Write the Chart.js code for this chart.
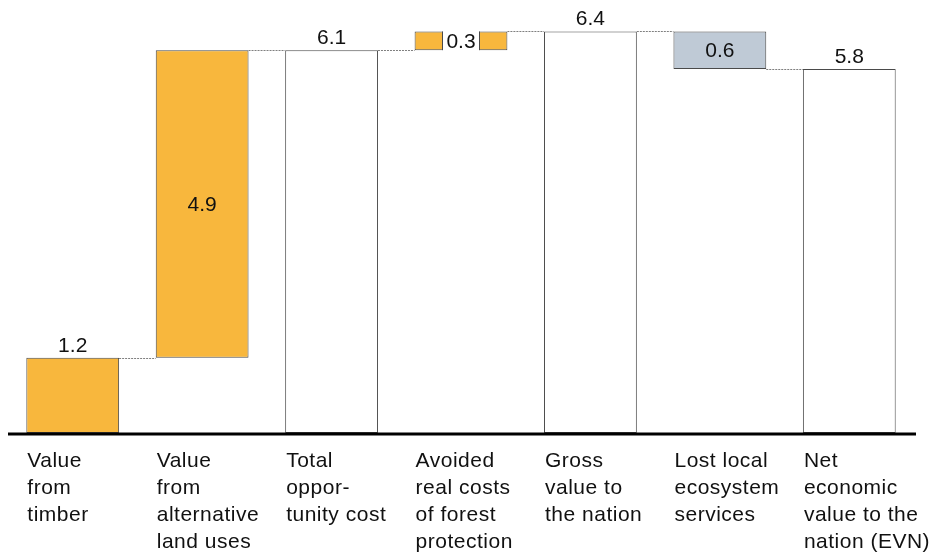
<!DOCTYPE html>
<html>
<head>
<meta charset="utf-8">
<script src="https://cdn.jsdelivr.net/npm/chart.js@4"></script>
<style>
  body { margin: 0; background: #fff; }
</style>
</head>
<body>
<canvas id="myChart" width="932" height="554"></canvas>
<script>
const categories = [
    ['Value', 'from', 'timber'],
    ['Value', 'from', 'alternative', 'land uses'],
    ['Total', 'oppor-', 'tunity cost'],
    ['Avoided', 'real costs', 'of forest', 'protection'],
    ['Gross', 'value to', 'the nation'],
    ['Lost local', 'ecosystem', 'services'],
    ['Net', 'economic', 'value to the', 'nation (EVN)'],
];
const values = [1.2, 4.9, 6.1, 0.3, 6.4, 0.6, 5.8];
const kinds = ['add', 'add', 'total', 'add', 'total', 'subtract', 'total'];

const kindColors = {
    add: 'rgb(248,183,61)',
    total: '#ffffff',
    subtract: 'rgb(191,202,214)'
};

// build floating ranges from the steps
let level = 0;
const ranges = values.map(function (v, i) {
    let r;
    if (kinds[i] == 'total') {
        r = [0, v];
        level = v;
    } else if (kinds[i] == 'add') {
        r = [level, level + v];
        level = level + v;
    } else {
        r = [level, level - v];
        level = level - v;
    }
    return r;
});

const font = '21px "Liberation Sans", Arial, sans-serif';
const textColor = '#111111';
const edgeColor = '#4a4a4a';

const waterfallPlugin = {
    id: 'waterfall',
    afterDatasetsDraw(chart) {
        const ctx = chart.ctx;
        const meta = chart.getDatasetMeta(0);
        const y = chart.scales.y;
        const area = chart.chartArea;

        ctx.save();
        // dotted connectors
        ctx.strokeStyle = '#7f7f7f';
        ctx.lineWidth = 1;
        ctx.setLineDash([2, 1]);
        for (let i = 0; i < meta.data.length - 1; i++) {
            const a = meta.data[i], b = meta.data[i + 1];
            const py = Math.round(y.getPixelForValue(ranges[i][1])) + 0.5;
            ctx.beginPath();
            ctx.moveTo(a.x + a.width / 2, py);
            ctx.lineTo(b.x - b.width / 2, py);
            ctx.stroke();
        }
        ctx.setLineDash([]);

        // value labels
        ctx.font = font;
        ctx.fillStyle = textColor;
        ctx.textAlign = 'center';
        meta.data.forEach(function (bar, i) {
            const txt = values[i].toFixed(1);
            const top = y.getPixelForValue(Math.max(ranges[i][0], ranges[i][1]));
            const bottom = y.getPixelForValue(Math.min(ranges[i][0], ranges[i][1]));
            if (kinds[i] == 'total' || i == 0) {
                ctx.textBaseline = 'alphabetic';
                ctx.fillText(txt, bar.x, top - 6);
            } else {
                const cy = (top + bottom) / 2;
                const w = ctx.measureText(txt).width;
                if (bottom - top < 26) {
                    // label box sits over a thin bar
                    const l = Math.round(bar.x - w / 2 - 4), r = Math.round(bar.x + w / 2 + 4);
                    ctx.fillStyle = '#ffffff';
                    ctx.fillRect(l, top - 1, r - l, bottom - top + 2);
                    ctx.strokeStyle = edgeColor;
                    ctx.beginPath();
                    ctx.moveTo(l + 0.5, top);
                    ctx.lineTo(l + 0.5, bottom);
                    ctx.moveTo(r - 0.5, top);
                    ctx.lineTo(r - 0.5, bottom);
                    ctx.stroke();
                    ctx.fillStyle = textColor;
                }
                ctx.textBaseline = 'middle';
                ctx.fillText(txt, bar.x, cy + 1);
            }
        });

        // axis line
        const base = y.getPixelForValue(0);
        ctx.strokeStyle = '#000000';
        ctx.lineWidth = 3;
        ctx.beginPath();
        ctx.moveTo(area.left, base + 1);
        ctx.lineTo(area.right + 2, base + 1);
        ctx.stroke();

        // category labels, left aligned with the bars
        ctx.textAlign = 'left';
        ctx.textBaseline = 'alphabetic';
        ctx.fillStyle = textColor;
        ctx.letterSpacing = '0.5px';
        meta.data.forEach(function (bar, i) {
            categories[i].forEach(function (line, j) {
                ctx.fillText(line, bar.x - bar.width / 2 + 1, base + 34 + j * 27);
            });
        });
        ctx.restore();
    }
};

const config = {
    type: 'bar',
    data: {
        labels: categories.map(c => c.join(' ')),
        datasets: [{
            data: ranges,
            backgroundColor: kinds.map(k => kindColors[k]),
            borderColor: edgeColor,
            borderWidth: 1,
            borderSkipped: false,
            barPercentage: 0.717,
            categoryPercentage: 1
        }]
    },
    options: {
        responsive: false,
        animation: false,
        layout: {
            padding: { left: 8, right: 18, top: 0, bottom: 121 }
        },
        plugins: {
            legend: { display: false },
            tooltip: { enabled: false }
        },
        scales: {
            x: { display: false },
            y: { display: false, min: 0, max: 6.9 }
        }
    },
    plugins: [waterfallPlugin]
};

var myChart = new Chart(document.getElementById('myChart'), config);
</script>
</body>
</html>
